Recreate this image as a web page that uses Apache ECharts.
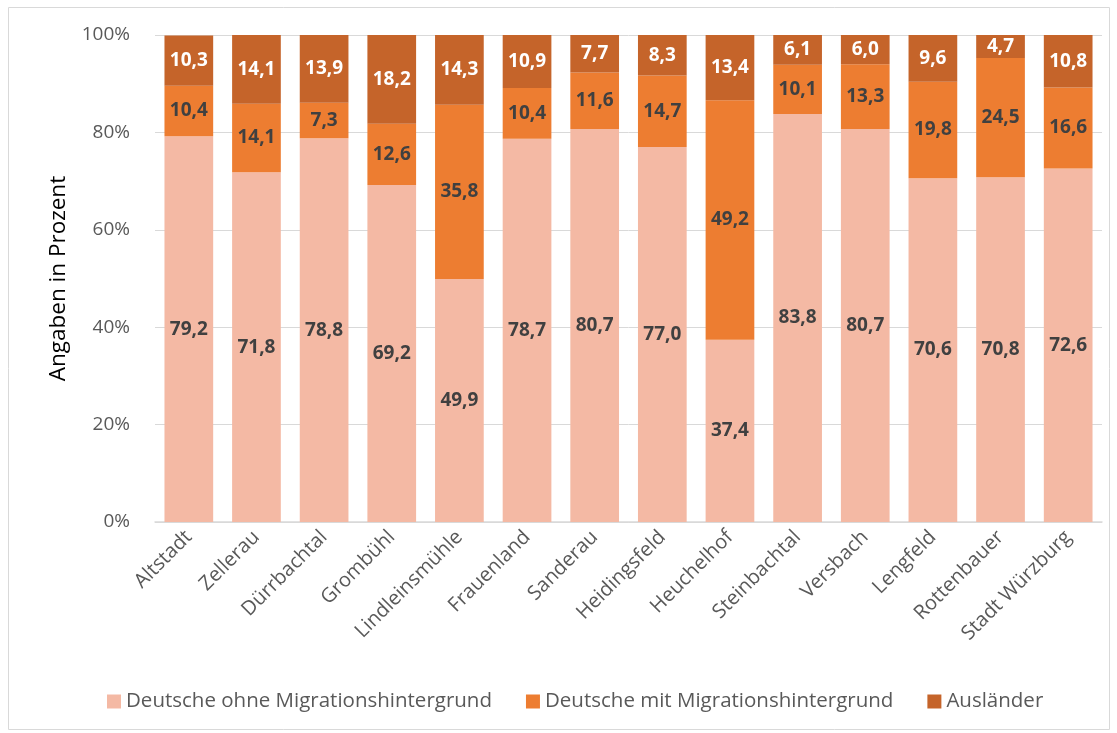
<!DOCTYPE html>
<html>
<head>
<meta charset="utf-8">
<script src="https://cdn.jsdelivr.net/npm/echarts@6/dist/echarts.min.js"></script>
<style>
  html, body { margin: 0; padding: 0; background: #fff; }
  #chart { width: 1117px; height: 733px; }
</style>
</head>
<body>
<div id="chart"></div>
<script>
"use strict"

const categories = ["Altstadt", "Zellerau", "Dürrbachtal", "Grombühl", "Lindleinsmühle", "Frauenland", "Sanderau",
  "Heidingsfeld", "Heuchelhof", "Steinbachtal", "Versbach", "Lengfeld", "Rottenbauer", "Stadt Würzburg"]
const ohneMigration = [79.2, 71.8, 78.8, 69.2, 49.9, 78.7, 80.7, 77.0, 37.4, 83.8, 80.7, 70.6, 70.8, 72.6]
const mitMigration = [10.4, 14.1, 7.3, 12.6, 35.8, 10.4, 11.6, 14.7, 49.2, 10.1, 13.3, 19.8, 24.5, 16.6]
const auslaender = [10.3, 14.1, 13.9, 18.2, 14.3, 10.9, 7.7, 8.3, 13.4, 6.1, 6.0, 9.6, 4.7, 10.8]
const yTicks = [0, 20, 40, 60, 80, 100]

const FONT = "'Open Sans', Lato, sans-serif"
const fmt = (p) => p.value.toFixed(1).replace(".", ",")

const mkSeries = (name, data, color, labelColor) => ({
  name,
  type: "bar",
  stack: "total",
  data,
  barWidth: "72%",
  itemStyle: { color },
  label: {
    show: true,
    position: "inside",
    formatter: fmt,
    color: labelColor,
    fontFamily: FONT,
    fontWeight: "bold",
    fontSize: 19,
  },
})

const chart = echarts.init(document.getElementById("chart"), null, { renderer: "canvas" })

chart.setOption({
  animation: false,
  graphic: [{
    type: "rect",
    shape: { x: 8.5, y: 7.5, width: 1101, height: 722 },
    style: { fill: "none", stroke: "#d9d9d9", lineWidth: 1 },
    silent: true,
  }],
  grid: { left: 155, right: 15, top: 35, bottom: 211 },
  legend: {
    bottom: 16,
    left: 102,
    itemWidth: 14,
    itemHeight: 14,
    itemGap: 34,
    icon: "rect",
    textStyle: { fontFamily: FONT, fontSize: 20.5, color: "#595959" },
  },
  xAxis: {
    type: "category",
    data: categories,
    axisTick: { show: false },
    axisLine: { lineStyle: { color: "#d9d9d9", width: 1.5 } },
    axisLabel: { rotate: 45, fontFamily: FONT, fontSize: 20, color: "#595959", margin: 12, interval: 0 },
  },
  yAxis: {
    type: "value",
    name: "Angaben in Prozent",
    nameLocation: "middle",
    nameGap: 85,
    nameTextStyle: { fontFamily: FONT, fontSize: 22.5, color: "#000" },
    min: yTicks[0],
    max: yTicks[yTicks.length - 1],
    interval: 20,
    axisLabel: { formatter: "{value}%", fontFamily: FONT, fontSize: 19, color: "#595959", margin: 25 },
    splitLine: { lineStyle: { color: "#d9d9d9" } },
  },
  series: [
    mkSeries("Deutsche ohne Migrationshintergrund", ohneMigration, "#f4b9a4", "#404040"),
    mkSeries("Deutsche mit Migrationshintergrund", mitMigration, "#ed7d31", "#404040"),
    mkSeries("Ausländer", auslaender, "#c5642a", "#ffffff"),
  ],
})
</script>
</body>
</html>
